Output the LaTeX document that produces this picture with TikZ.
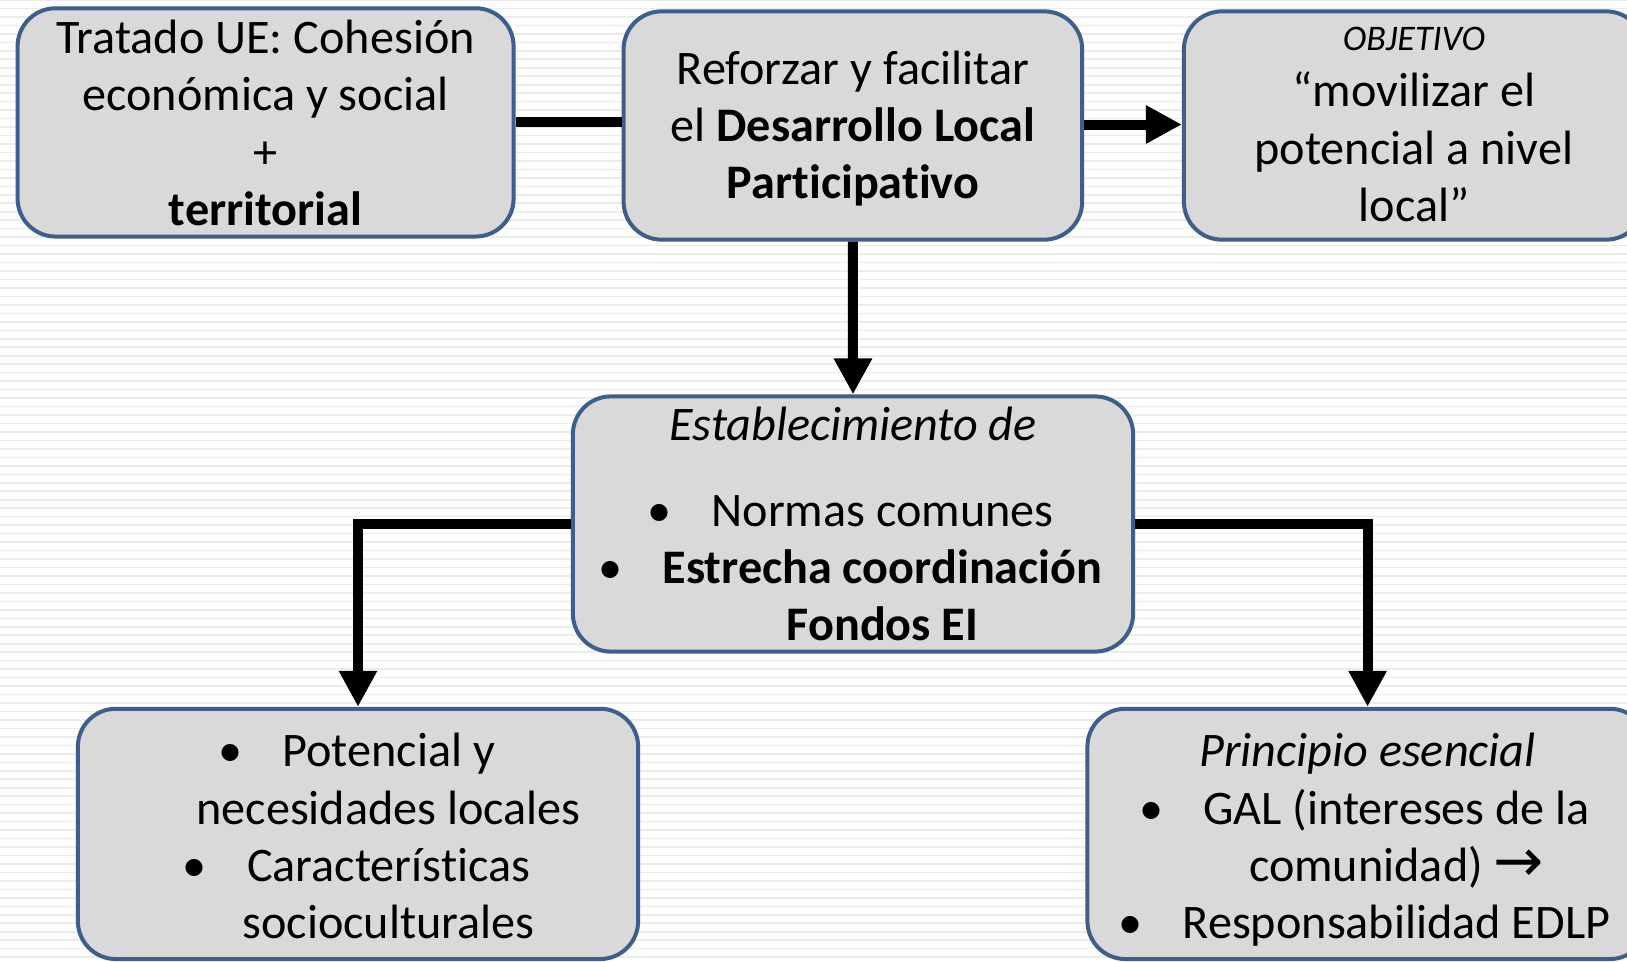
\documentclass[tikz,border=0pt]{standalone}
\usepackage{fontspec}
\setmainfont{Carlito}[Ligatures=NoCommon]
\newfontfamily\symfont{DejaVu Sans}
\usetikzlibrary{arrows.meta,calc}
\definecolor{boxfill}{RGB}{217,217,217}
\definecolor{boxborder}{RGB}{60,95,140}
\definecolor{stripecol}{RGB}{236,236,236}
\tikzset{
  box/.style={rectangle, draw=boxborder, fill=boxfill, line width=4pt, rounded corners=38pt, inner sep=0pt},
  txt/.style={inner sep=0pt, anchor=base, font=\fontsize{48.2}{57.4}\selectfont},
  smalltxt/.style={inner sep=0pt, anchor=base, font=\fontsize{36}{40}\selectfont\itshape},
  conn/.style={line width=10pt, draw=black},
  arr/.style={conn, -{Triangle[length=36pt,width=36pt]}},
  stripeline/.style={draw=stripecol, line width=1.6pt}
}
\begin{document}
\begin{tikzpicture}[x=1pt,y=-1pt]
\useasboundingbox (0,0) rectangle (1627,961);
\clip (0,0) rectangle (1627,961);
\fill[white] (0,0) rectangle (1627,961);
\foreach \i in {0,...,113} \draw[stripeline] (0,\i*8.47) -- (1627,\i*8.47);

% boxes
\node[box, minimum width=496pt, minimum height=228.3pt] (b1) at (265.6,122.4) {};
\node[box, minimum width=458.6pt, minimum height=228.3pt] (b2) at (852.9,125.5) {};
\node[box, minimum width=460.2pt, minimum height=228.3pt] (b3) at (1414,125.5) {};
\node[box, minimum width=560.3pt, minimum height=255.2pt] (b4) at (853,524) {};
\node[box, minimum width=560.3pt, minimum height=250.3pt] (b5) at (358,833.9) {};
\node[box, minimum width=560.4pt, minimum height=250.3pt] (b6) at (1367.6,833.9) {};

% box 1
\node[txt] (t1a) at (265.6,53.4) {Tratado UE: Cohesión};
\node[txt] (t1b) at (265.6,110.8) {económica y social};
\node[txt] (t1c) at (265.6,168.2) {+};
\node[txt] (t1d) at (265.6,225.6) {\textbf{territorial}};

% box 2
\node[txt] (t2a) at (852.9,84.6) {Reforzar y facilitar};
\node[txt] (t2b) at (852.9,141.6) {el \textbf{Desarrollo Local}};
\node[txt] (t2c) at (852.9,198.7) {\textbf{Participativo}};

% box 3
\node[smalltxt] (t3a) at (1414,50.5) {OBJETIVO};
\node[txt] (t3b) at (1414,106.4) {“movilizar el};
\node[txt] (t3c) at (1414,164.5) {potencial a nivel};
\node[txt] (t3d) at (1414,221.5) {local”};

% box 4
\node[txt] (t4a) at (853,440.5) {\itshape Establecimiento de};
\node[txt] (t4b) at (882.5,526.6) {Normas comunes};
\node[txt] (t4c) at (882.5,583.7) {\textbf{Estrecha coordinación}};
\node[txt] (t4d) at (882.5,640.7) {\textbf{Fondos EI}};
\node[txt] (u4b) at ($(t4b.base west)+(-52,0)$) {•};
\node[txt] (u4c) at ($(t4c.base west)+(-52,0)$) {•};

% box 5
\node[txt] (t5a) at (388.6,766.3) {Potencial y};
\node[txt] (t5b) at (388.6,824.4) {necesidades locales};
\node[txt] (t5c) at (388.6,881.4) {Características};
\node[txt] (t5d) at (388.6,938.5) {socioculturales};
\node[txt] (u5a) at ($(t5a.base west)+(-52,0)$) {•};
\node[txt] (u5c) at ($(t5c.base west)+(-52,0)$) {•};

% box 6
\node[txt] (t6a) at (1367.6,766.3) {\itshape Principio esencial};
\node[txt] (t6b) at (1396.6,824.4) {GAL (intereses de la};
\node[txt] (t6c) at (1396.6,881.4) {comunidad) {\symfont\fontsize{60}{57.4}\selectfont →}};
\node[txt] (t6d) at (1396.6,938.5) {Responsabilidad EDLP};
\node[txt] (u6b) at ($(t6b.base west)+(-52,0)$) {•};
\node[txt] (u6d) at ($(t6d.base west)+(-52,0)$) {•};

% connectors
\draw[conn] (b1.east) -- (b1.east -| b2.west);
\draw[arr] (b2.east |- 0,124.5) -- (b3.west |- 0,124.5);
\draw[arr] (b2.south) -- (b4.north);
\draw[arr] (b4.west) -| (b5.north);
\draw[arr] (b4.east) -| (b6.north);
\end{tikzpicture}
\end{document}
